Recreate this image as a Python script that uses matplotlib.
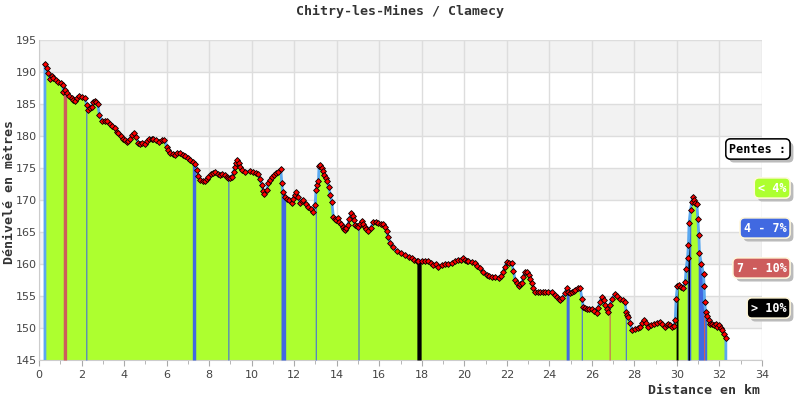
import numpy as np
import matplotlib.pyplot as plt
from matplotlib import patheffects as pe

# profile: distance (km) / elevation (m)
dist = [0.28, 0.36, 0.44, 0.52, 0.60, 0.67, 0.80, 0.91, 1.02, 1.11, 1.14, 1.22, 1.30, 1.42, 1.54, 1.62, 1.69, 1.80, 1.90, 2.00,
        2.16, 2.24, 2.32, 2.40, 2.48, 2.55, 2.63, 2.70, 2.76, 2.84, 2.95, 3.10, 3.22, 3.34, 3.45, 3.57, 3.65, 3.73, 3.85, 3.96,
        4.05, 4.12, 4.20, 4.28, 4.38, 4.48, 4.56, 4.67, 4.75, 4.83, 4.99, 5.10, 5.19, 5.30, 5.38, 5.50, 5.66, 5.80, 5.90, 6.00,
        6.08, 6.15, 6.28, 6.40, 6.50, 6.63, 6.75, 6.87, 7.00, 7.10, 7.22, 7.34, 7.42, 7.50, 7.57, 7.70, 7.81, 7.90, 7.96, 8.10,
        8.20, 8.28, 8.40, 8.51, 8.60, 8.75, 8.82, 8.90, 9.00, 9.06, 9.15, 9.22, 9.28, 9.33, 9.40, 9.45, 9.55, 9.69, 9.90, 10.08,
        10.20, 10.31, 10.40, 10.47, 10.55, 10.60, 10.71, 10.79, 10.87, 10.97, 11.07, 11.15, 11.26, 11.37, 11.42, 11.46, 11.55,
        11.65, 11.75, 11.88, 11.95, 12.02, 12.09, 12.18, 12.28, 12.35, 12.43, 12.55, 12.67, 12.80, 12.90, 12.98, 13.03, 13.08,
        13.14, 13.17, 13.22, 13.30, 13.35, 13.41, 13.48, 13.56, 13.63, 13.70, 13.77, 13.84, 13.92, 13.97, 14.05, 14.12, 14.19,
        14.28, 14.35, 14.39, 14.45, 14.52, 14.60, 14.68, 14.75, 14.80, 14.86, 14.95, 15.02, 15.10, 15.18, 15.25, 15.33, 15.40,
        15.49, 15.60, 15.72, 15.85, 15.96, 16.08, 16.19, 16.28, 16.35, 16.42, 16.51, 16.65, 16.83, 17.00, 17.22, 17.40, 17.53,
        17.65, 17.77, 17.84, 18.00, 18.15, 18.31, 18.45, 18.55, 18.65, 18.78, 18.95, 19.10, 19.25, 19.41, 19.55, 19.72, 19.85,
        19.95, 20.04, 20.12, 20.19, 20.35, 20.51, 20.62, 20.74, 20.90, 21.06, 21.18, 21.29, 21.45, 21.61, 21.72, 21.84, 21.92,
        22.00, 22.10, 22.23, 22.31, 22.39, 22.47, 22.55, 22.62, 22.70, 22.78, 22.86, 22.94, 23.02, 23.10, 23.17, 23.25, 23.33,
        23.45, 23.57, 23.70, 23.80, 23.95, 24.12, 24.25, 24.35, 24.45, 24.51, 24.60, 24.74, 24.82, 24.90, 24.98, 25.06, 25.15,
        25.21, 25.35, 25.45, 25.53, 25.60, 25.68, 25.76, 25.88, 26.00, 26.12, 26.23, 26.30, 26.39, 26.47, 26.55, 26.62, 26.70,
        26.78, 26.85, 26.94, 27.09, 27.20, 27.33, 27.45, 27.56, 27.61, 27.67, 27.72, 27.80, 27.88, 28.03, 28.15, 28.27, 28.38,
        28.46, 28.55, 28.66, 28.78, 28.90, 29.05, 29.21, 29.30, 29.45, 29.52, 29.60, 29.68, 29.76, 29.85, 29.92, 29.96, 30.02,
        30.12, 30.20, 30.28, 30.39, 30.43, 30.50, 30.54, 30.57, 30.64, 30.70, 30.75, 30.80, 30.86, 30.94, 30.98, 31.03, 31.06,
        31.15, 31.25, 31.28, 31.30, 31.35, 31.41, 31.50, 31.56, 31.65, 31.72, 31.82, 31.90, 31.98, 32.05, 32.11, 32.20, 32.30]
elev = [191.3, 190.6, 189.9, 188.9, 189.3, 189.0, 188.7, 188.5, 188.3, 188.0, 186.9, 187.2, 186.7, 186.3, 185.9, 185.6, 185.4, 185.9, 186.2, 186.1,
        186.0, 184.8, 184.1, 184.3, 184.6, 185.3, 185.5, 185.3, 185.0, 183.3, 182.4, 182.4, 182.3, 181.9, 181.6, 181.2, 180.7, 180.4, 180.0, 179.6,
        179.3, 179.1, 179.2, 179.6, 180.1, 180.4, 179.9, 178.9, 178.8, 178.9, 178.75, 179.2, 179.5, 179.6, 179.5, 179.3, 179.1, 179.3, 179.4, 178.3,
        177.8, 177.3, 177.2, 177.0, 177.3, 177.4, 177.0, 176.8, 176.6, 176.25, 176.0, 175.7, 174.7, 173.8, 173.1, 173.0, 172.9, 173.3, 173.6, 174.0,
        174.2, 174.4, 174.1, 173.9, 174.0, 173.9, 173.6, 173.4, 173.5, 173.6, 174.3, 175.2, 175.8, 176.25, 175.8, 175.2, 174.7, 174.4, 174.5, 174.4,
        174.2, 174.1, 173.3, 172.3, 171.4, 171.0, 171.6, 172.6, 173.1, 173.6, 173.9, 174.2, 174.4, 174.8, 172.6, 171.2, 170.5,
        170.1, 170.0, 169.5, 170.2, 170.8, 171.3, 170.5, 169.5, 169.9, 170.0, 169.4, 168.9, 168.6, 168.2, 169.2, 171.6, 172.3,
        173.0, 175.3, 175.5, 175.0, 174.5, 173.9, 173.5, 173.0, 172.0, 170.8, 169.7, 167.4, 167.1, 166.9, 167.2, 166.6, 166.3,
        165.8, 165.5, 165.3, 165.6, 166.1, 167.0, 167.9, 167.5, 166.8, 166.1, 165.9, 165.8, 166.3, 166.7, 166.3, 165.8, 165.5,
        165.1, 165.7, 166.5, 166.5, 166.4, 166.3, 166.25, 165.8, 165.1, 164.2, 163.3, 162.6, 162.0, 161.7, 161.4, 161.1, 160.9,
        160.7, 160.5, 160.4, 160.5, 160.5, 160.4, 160.2, 159.8, 160.0, 159.6, 159.8, 160.0, 160.0, 160.1, 160.4, 160.7, 160.6,
        160.9, 160.7, 160.5, 160.4, 160.3, 160.1, 159.7, 159.3, 158.8, 158.3, 158.1, 158.0, 157.9, 157.8, 158.2, 158.8, 159.6,
        160.3, 160.1, 160.1, 158.9, 157.5, 157.0, 156.5, 156.8, 157.0, 158.0, 158.8, 158.7, 158.3, 157.7, 157.0, 156.3, 155.7,
        155.6, 155.6, 155.6, 155.6, 155.7, 155.7, 155.2, 154.9, 154.6, 154.4, 154.7, 155.4, 156.2, 155.6, 155.5, 155.7, 155.8,
        155.9, 156.3, 156.2, 154.6, 153.3, 153.1, 153.0, 153.0, 152.9, 152.6, 152.3, 153.2, 154.1, 154.9, 154.3, 153.6, 153.0,
        152.5, 153.6, 154.6, 155.3, 155.0, 154.6, 154.3, 154.0, 152.5, 152.1, 151.7, 150.8, 149.7, 149.8, 150.0, 150.2, 150.8,
        151.25, 150.8, 150.2, 150.4, 150.6, 150.8, 151.0, 150.7, 150.2, 150.5, 150.7, 150.4, 150.1, 150.3, 151.25, 154.5, 156.5,
        156.7, 156.4, 156.2, 157.2, 159.2, 161.0, 163.0, 166.4, 168.5, 169.7, 170.5, 170.0, 169.6, 169.4, 167.1, 164.5, 161.7,
        160.0, 158.4, 156.5, 154.0, 152.5, 151.8, 151.2, 150.7, 150.6, 150.5, 150.6, 150.2, 150.5, 150.0, 149.7, 149.1, 148.5]

# slope sections drawn in another colour (start km, end km, class)
steep_start = [1.14, 2.20, 7.21, 8.88, 11.38, 12.99, 15.00, 17.77, 24.79, 25.50, 26.81, 27.57, 29.96, 30.48, 30.52, 31.00, 31.25, 31.30]
steep_end = [1.30, 2.25, 7.37, 8.93, 11.60, 13.04, 15.05, 17.97, 24.93, 25.55, 26.86, 27.62, 30.05, 30.65, 30.59, 31.25, 31.30, 31.40]
steep_class = [2, 1, 1, 1, 1, 1, 1, 3, 1, 1, 2, 1, 3, 1, 3, 1, 2, 1]

class_colors = ["#adff2f", "#4169e1", "#cd5c5c", "#000000"]
class_labels = ["< 4%", "4 - 7%", "7 - 10%", "> 10%"]

ymin, ymax = 145, 195

fig = plt.figure(figsize=(8, 4), dpi=100)
ax = fig.add_axes([0.04875, 0.1, 0.90375, 0.8])

# alternating horizontal bands
for lo in range(ymin, ymax, 5):
    if (lo - ymin) // 5 % 2 == 1:
        ax.axhspan(lo, lo + 5, color="#f2f2f2", zorder=0, lw=0)

x = np.array(dist)
y = np.array(elev)
ax.fill_between(x, ymin, y, color=class_colors[0], lw=0, zorder=2)
for s, e, c in zip(steep_start, steep_end, steep_class):
    xs = np.linspace(s, e, 10)
    ax.fill_between(xs, ymin, np.interp(xs, x, y), color=class_colors[c], lw=0, zorder=3)

ax.plot(np.r_[x[0], x, x[-1]], np.r_[ymin, y, ymin], color="#5aa8f0", lw=2.0, zorder=4,
        solid_joinstyle="round")
ax.plot(x, y, ls="none", marker="D", ms=3.0, mfc="red", mec="black", mew=0.6, zorder=5)

ax.set_xlim(0, 34)
ax.set_ylim(ymin, ymax)
ax.set_xticks(np.arange(0, 35, 2))
ax.set_xticks(np.arange(0, 35, 1), minor=True)
ax.set_yticks(np.arange(ymin, ymax + 1, 5))
ax.grid(True, color="#dddddd", lw=1, zorder=1)
ax.set_axisbelow(True)
for side in ["top", "right"]:
    ax.spines[side].set_visible(False)
for side in ["left", "bottom"]:
    ax.spines[side].set_color("#cccccc")
ax.tick_params(axis="both", which="both", colors="#aaaaaa", labelcolor="#444444", labelsize=8, length=4)
ax.tick_params(axis="x", which="minor", length=3)
ax.tick_params(axis="y", length=0, pad=1.5)

mono = "DejaVu Sans Mono"
fig.text(0.5, 0.972, "Chitry-les-Mines / Clamecy", ha="center", va="center", family=mono,
         fontsize=9.5, color="#333333", weight="bold")
fig.text(0.95, 0.025, "Distance en km", ha="right", va="center", family=mono,
         fontsize=9.5, color="#333333", weight="bold")
fig.text(0.004, 0.52, "Dénivelé en mètres", ha="left", va="center", rotation=90, family=mono,
         fontsize=9.5, color="#333333", weight="bold")

# legend boxes
shadow = [pe.withSimplePatchShadow(offset=(2.5, -2.5), shadow_rgbFace="#bbbbbb", alpha=1), pe.Normal()]
t = fig.text(0.983, 0.6275, "Pentes :", ha="right", va="center", family=mono, fontsize=8.5,
             weight="bold", color="black",
             bbox=dict(boxstyle="round,pad=0.3,rounding_size=0.4", fc="white", ec="black", lw=1))
t.get_bbox_patch().set_path_effects(shadow)
ys = [0.53, 0.43, 0.33, 0.23]
for yy, col, lab in zip(ys, class_colors, class_labels):
    t = fig.text(0.983, yy, lab, ha="right", va="center", family=mono, fontsize=8.5,
                 weight="bold", color="white",
                 bbox=dict(boxstyle="round,pad=0.3,rounding_size=0.4", fc=col, ec="#fff8dc", lw=1))
    t.get_bbox_patch().set_path_effects(shadow)

fig.savefig("out.png", dpi=100)
